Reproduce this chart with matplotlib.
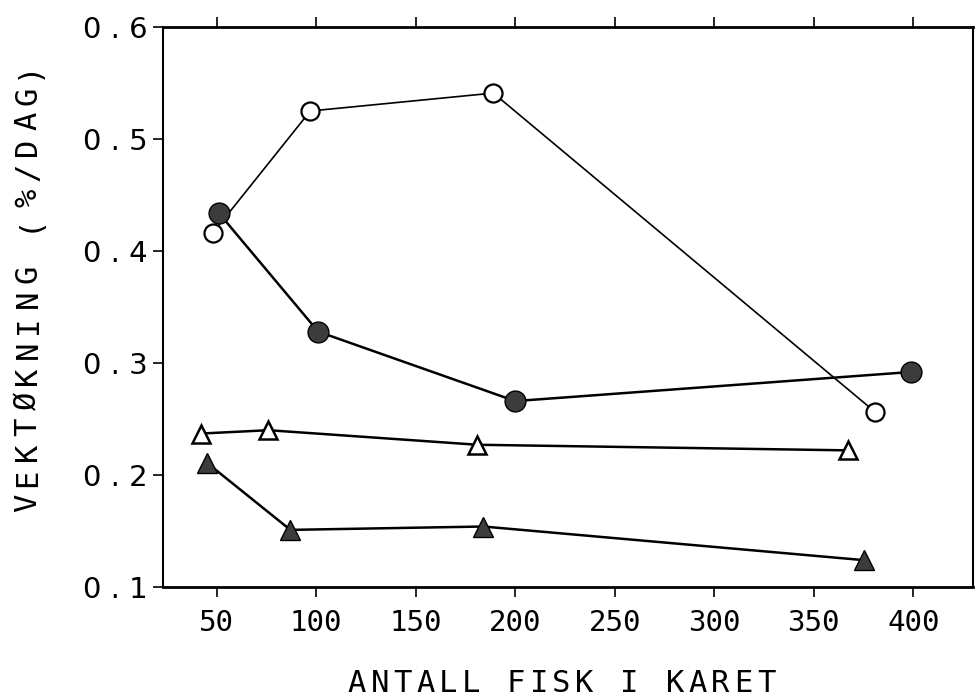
import matplotlib
matplotlib.use("Agg")
import matplotlib.pyplot as plt

# values
open_circ_x = [48, 97, 189, 381]
open_circ_y = [0.416, 0.525, 0.541, 0.256]
fill_circ_x = [51, 101, 200, 399]
fill_circ_y = [0.434, 0.328, 0.266, 0.292]
open_tri_x = [42, 76, 181, 367]
open_tri_y = [0.237, 0.240, 0.227, 0.222]
fill_tri_x = [45, 87, 184, 375]
fill_tri_y = [0.211, 0.151, 0.154, 0.124]

xticks = [50, 100, 150, 200, 250, 300, 350, 400]
yticks = [0.1, 0.2, 0.3, 0.4, 0.5, 0.6]
ytick_labels = ["0 . 1", "0 . 2", "0 . 3", "0 . 4", "0 . 5", "0 . 6"]
xlabel = "ANTALL FISK I KARET"
ylabel = "VEKTØKNING (%/DAG)"

mono = "DejaVu Sans Mono"
W, H = 976, 698
fig = plt.figure(figsize=(W/100, H/100), dpi=100)
ax = fig.add_axes([163/W, 1-587/H, (973-163)/W, (587-27)/H])

dark = "#3c3c3c"
ax.plot(open_circ_x, open_circ_y, color="black", lw=1.2, marker="o", ms=13,
        mfc="white", mec="black", mew=1.6, zorder=3)
ax.plot(fill_circ_x, fill_circ_y, color="black", lw=1.8, marker="o", ms=15,
        mfc=dark, mec="black", mew=1.0, zorder=3)
ax.plot(open_tri_x, open_tri_y, color="black", lw=1.8, marker="^", ms=13,
        mfc="white", mec="black", mew=1.8, zorder=3)
ax.plot(fill_tri_x, fill_tri_y, color="black", lw=1.8, marker="^", ms=14,
        mfc=dark, mec="black", mew=1.0, zorder=3)

ax.set_xlim(23, 430)
ax.set_ylim(0.1, 0.6)
ax.set_xticks(xticks)
ax.set_xticklabels([str(t) for t in xticks], family=mono, fontsize=21)
ax.set_yticks(yticks)
ax.set_yticklabels(ytick_labels, fontsize=21)
ax.tick_params(axis="x", direction="out", length=7, width=1.2,
               top=True, pad=9)
ax.tick_params(axis="y", direction="out", length=7, width=1.2, pad=4)
for side in ["left", "right"]:
    ax.spines[side].set_linewidth(1.5)
for side in ["top", "bottom"]:
    ax.spines[side].set_linewidth(2.0)

# plotter style lettering: wide, even letter spacing
def spaced(text, x0, x1, y, vertical=False):
    step = (x1 - x0) / (len(text) - 1)
    for i, ch in enumerate(text):
        if vertical:
            fig.text(y/W, 1-(x1 - i*step)/H, ch, family=mono, fontsize=22,
                     ha="center", va="center", rotation=90)
        else:
            fig.text((x0 + i*step)/W, 1-y/H, ch, family=mono, fontsize=22,
                     ha="center", va="center")

spaced(xlabel, 357, 766, 683)
spaced(ylabel, 70, 503, 28, vertical=True)

fig.savefig("out.png", dpi=100)
